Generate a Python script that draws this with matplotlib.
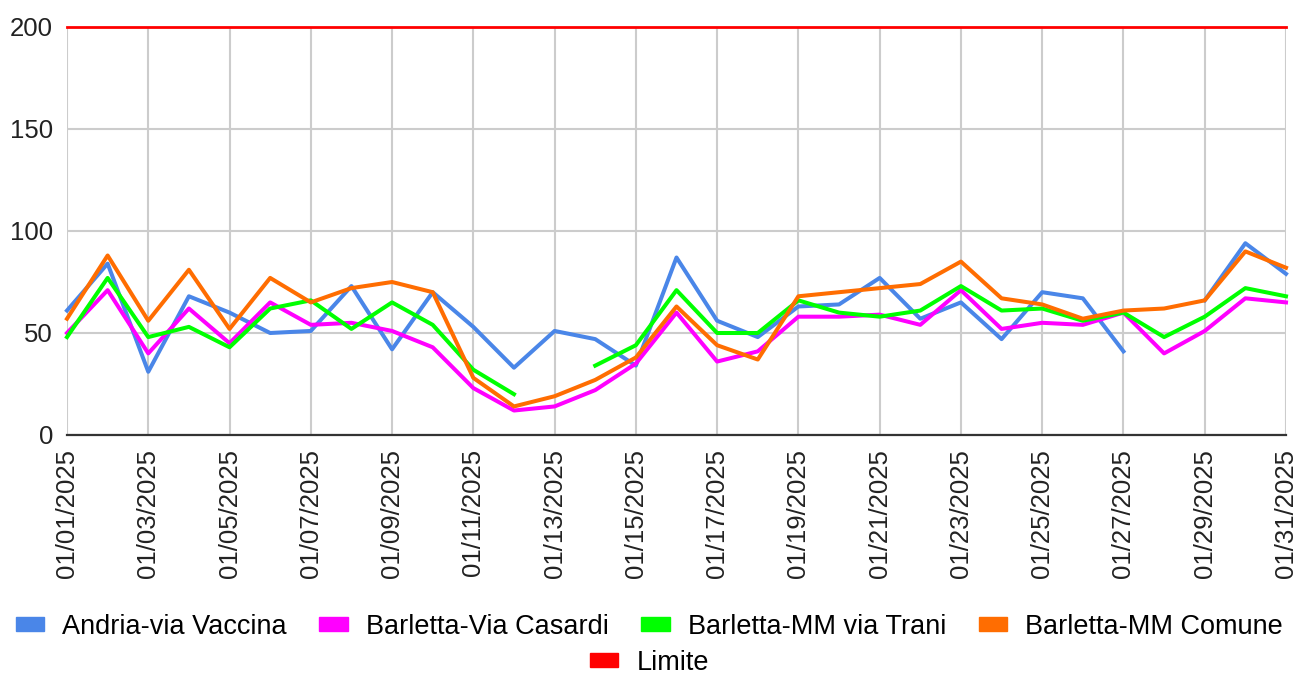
import numpy as np
import matplotlib
matplotlib.use('Agg')
import matplotlib.pyplot as plt
from matplotlib.patches import Patch

plt.rcParams['font.family'] = ['Liberation Sans', 'DejaVu Sans']

nan = np.nan
dates = [f'01/{d:02d}/2025' for d in range(1, 32)]

andria = [61, 84, 31, 68, 60, 50, 51, 73, 42, 70, 53, 33, 51, 47, 34, 87,
          56, 48, 63, 64, 77, 57, 65, 47, 70, 67, 41, nan, 66, 94, 79]
casardi = [50, 71, 40, 62, 45, 65, 54, 55, 51, 43, 23, 12, 14, 22, 35, 60,
           36, 41, 58, 58, 59, 54, 71, 52, 55, 54, 60, 40, 51, 67, 65]
trani = [48, 77, 48, 53, 43, 62, 66, 52, 65, 54, 32, 20, nan, 34, 44, 71,
         50, 50, 66, 60, 58, 61, 73, 61, 62, 56, 60, 48, 58, 72, 68]
comune = [57, 88, 56, 81, 52, 77, 65, 72, 75, 70, 28, 14, 19, 27, 38, 63,
          44, 37, 68, 70, 72, 74, 85, 67, 64, 57, 61, 62, 66, 90, 82]
limite = [200] * 31

series = [
    ('Andria-via Vaccina', andria, '#4a86e8', 2.9),
    ('Barletta-Via Casardi', casardi, '#ff00ff', 2.9),
    ('Barletta-MM via Trani', trani, '#00ff00', 2.9),
    ('Barletta-MM Comune', comune, '#ff6d01', 2.9),
    ('Limite', limite, '#ff0000', 2.0),
]

fig = plt.figure(figsize=(12.99, 6.77), dpi=100)
ax = fig.add_axes([67 / 1299, 1 - 435 / 677, (1286 - 67) / 1299, (435 - 27) / 677])

x = np.arange(len(dates))
for name, vals, color, lw in series:
    ax.plot(x, vals, color=color, lw=lw, clip_on=False, zorder=3)

ax.set_xlim(0, len(dates) - 1)
ax.set_ylim(0, 200)
ax.set_yticks([0, 50, 100, 150, 200])
ax.set_xticks(x[::2])
ax.set_xticklabels(dates[::2], rotation=90, fontsize=18.5, color='#222222')
ax.tick_params(axis='y', labelsize=18.5, labelcolor='#222222', length=0, pad=10)
ax.tick_params(axis='x', length=0, pad=10)
ax.grid(True, color='#cccccc', lw=1.5, zorder=0)
for s in ['top', 'right', 'left']:
    ax.spines[s].set_visible(False)
ax.spines['bottom'].set_color('#333333')
ax.spines['bottom'].set_linewidth(1.6)
ax.spines['bottom'].set_zorder(2)

handles = [Patch(color=s[2], label=s[0]) for s in series]
leg_kw = dict(loc='center', frameon=False, fontsize=19.5, handlelength=1.05,
              handleheight=0.4, handletextpad=0.67, borderpad=0)
fig.legend(handles=handles[:4], ncol=4, bbox_to_anchor=(0.5, 1 - 627 / 677),
           columnspacing=1.2, **leg_kw)
fig.legend(handles=handles[4:], bbox_to_anchor=(0.5, 1 - 663 / 677), **leg_kw)

fig.savefig('out.png', dpi=100)
